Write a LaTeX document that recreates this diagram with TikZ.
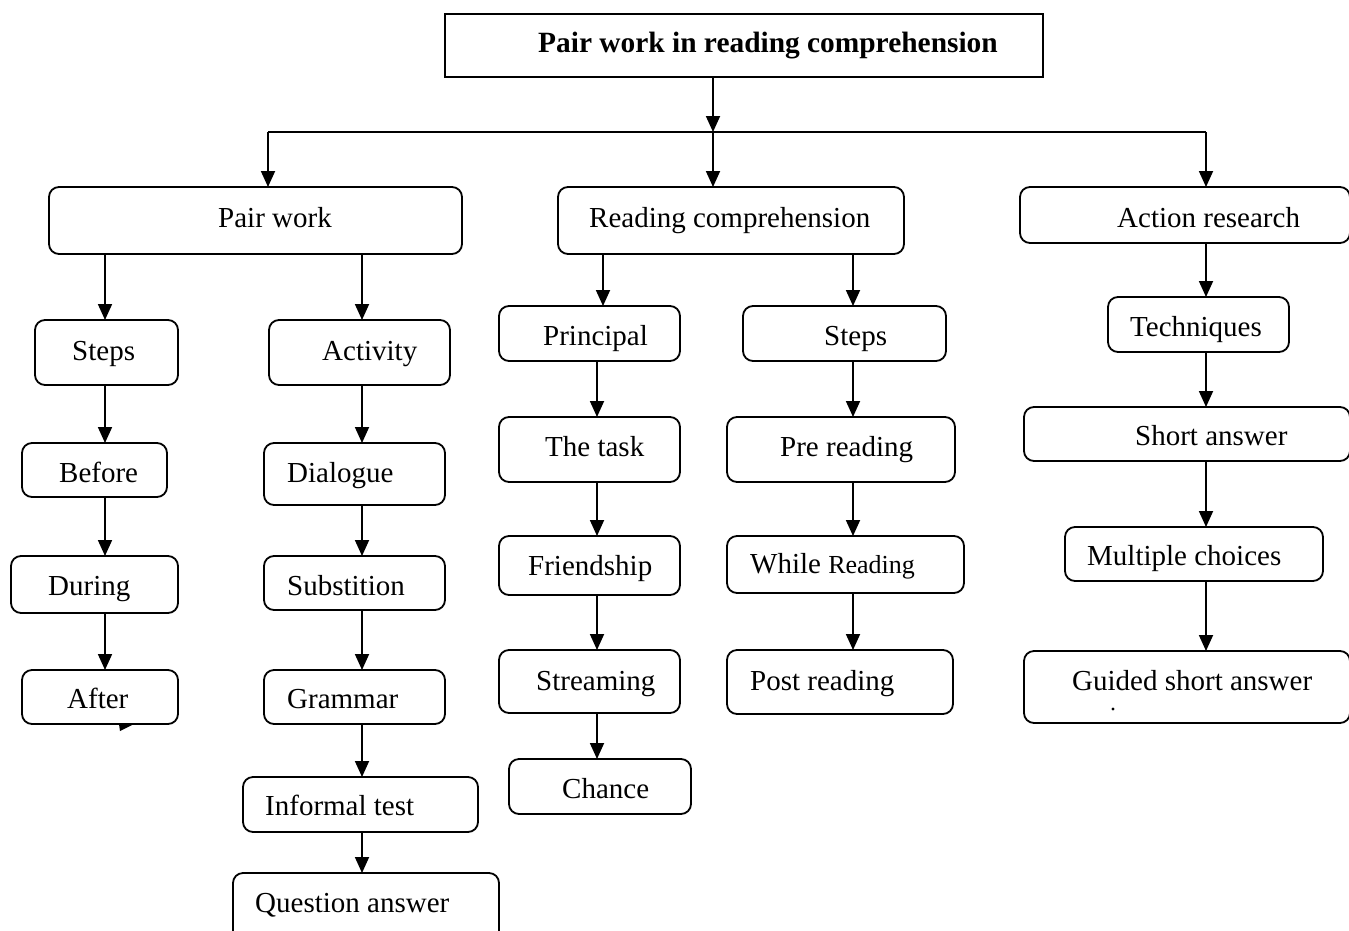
\documentclass[tikz,border=0pt]{standalone}
\usepackage{fontspec}
\setmainfont{Liberation Serif}
\usetikzlibrary{arrows.meta}
\newcommand\bx[5]{%
  \node[boxstyle, minimum width={#4pt-#2pt}, minimum height={#5pt-#3pt}] (#1) at ({(#2+#4)/2},{(#3+#5)/2}) {};}
\newcommand\tx[4]{\node[txtstyle] (#1) at (#2,#3) {#4};}
\begin{document}
\begin{tikzpicture}[x=1pt,y=-1pt,
  boxstyle/.style={draw, line width=1.8pt, rounded corners=10pt, inner sep=0pt, outer sep=0pt},
  txtstyle/.style={anchor=base west, inner sep=0pt, font=\fontsize{29}{34}\selectfont},
  arr/.style={line width=1.8pt, -{Triangle[length=16pt,width=14pt]}},
  ln/.style={line width=1.8pt}]
\useasboundingbox (0,0) rectangle (1349,930);
% column coordinates
\coordinate (c0) at (713,0);
\coordinate (cpw) at (268,0);
\coordinate (c1) at (105,0);
\coordinate (c2) at (362,0);
\coordinate (cp) at (603,0);
\coordinate (c3) at (597,0);
\coordinate (c4) at (853,0);
\coordinate (c5) at (1206,0);
\coordinate (hub) at (713,132);
% title
\node[draw, line width=1.8pt, inner sep=0pt, minimum width=598pt, minimum height=63pt] (root) at (744,45.5) {};
\node[txtstyle, font=\fontsize{29.4}{34}\selectfont\bfseries] (troot) at (538,52) {Pair work in reading comprehension};
% level 1
\bx{pw}{49}{187}{462}{254}
\tx{tpw}{218}{227}{Pair work}
\bx{rc}{558}{187}{904}{254}
\tx{trc}{589}{227}{Reading comprehension}
\bx{ar}{1020}{187}{1350}{243}
\tx{tar}{1117}{227}{Action research}
% pair work column 1
\bx{steps}{35}{320}{178}{385}
\tx{tsteps}{72}{360}{Steps}
\bx{before}{22}{443}{167}{497}
\tx{tbefore}{59}{482}{Before}
\bx{during}{11}{556}{178}{613}
\tx{tduring}{48}{595}{During}
\bx{after}{22}{670}{178}{724}
\tx{tafter}{67}{708}{After}
% pair work column 2
\bx{activity}{269}{320}{450}{385}
\tx{tactivity}{322}{360}{Activity}
\bx{dialogue}{264}{443}{445}{505}
\tx{tdialogue}{287}{482}{Dialogue}
\bx{subst}{264}{556}{445}{610}
\tx{tsubst}{287}{595}{Substition}
\bx{grammar}{264}{670}{445}{724}
\tx{tgrammar}{287}{708}{Grammar}
\bx{informal}{243}{777}{478}{832}
\tx{tinformal}{265}{815}{Informal test}
\bx{question}{233}{873}{499}{945}
\tx{tquestion}{255}{912}{Question answer}
% reading comprehension column 1
\bx{principal}{499}{306}{680}{361}
\tx{tprincipal}{543}{345}{Principal}
\bx{task}{499}{417}{680}{482}
\tx{ttask}{545}{456}{The task}
\bx{friend}{499}{536}{680}{595}
\tx{tfriend}{528}{575}{Friendship}
\bx{stream}{499}{650}{680}{713}
\tx{tstream}{536}{690}{Streaming}
\bx{chance}{509}{759}{691}{814}
\tx{tchance}{562}{798}{Chance}
% reading comprehension column 2
\bx{rsteps}{743}{306}{946}{361}
\tx{trsteps}{824}{345}{Steps}
\bx{pre}{727}{417}{955}{482}
\tx{tpre}{780}{456}{Pre reading}
\bx{while}{727}{536}{964}{593}
\node[txtstyle] (twhile) at (750,573) {While {\fontsize{26}{30}\selectfont Reading}};
\bx{post}{727}{650}{953}{714}
\tx{tpost}{750}{690}{Post reading}
% action research column
\bx{tech}{1108}{297}{1289}{352}
\tx{ttech}{1130}{336}{Techniques}
\bx{short}{1024}{407}{1350}{461}
\tx{tshort}{1135}{445}{Short answer}
\bx{multi}{1065}{527}{1323}{581}
\tx{tmulti}{1087}{565}{Multiple choices}
\bx{guided}{1024}{651}{1350}{723}
\tx{tguided}{1072}{690}{Guided short answer}
% stray marks
\fill (119,724) -- (134,724) -- (120,731) -- cycle;
\fill (1113,709) circle (1.6);
% connectors: top
\draw[arr] (root.south -| c0) -- (hub);
\draw[ln] (hub -| cpw) -- (hub -| c5);
\draw[arr] (hub -| cpw) -- (pw.north -| cpw);
\draw[arr] (hub) -- (rc.north -| hub);
\draw[arr] (hub -| c5) -- (ar.north -| c5);
% pair work
\draw[arr] (pw.south -| c1) -- (steps.north -| c1);
\draw[arr] (pw.south -| c2) -- (activity.north -| c2);
\draw[arr] (steps.south -| c1) -- (before.north -| c1);
\draw[arr] (before.south -| c1) -- (during.north -| c1);
\draw[arr] (during.south -| c1) -- (after.north -| c1);
\draw[arr] (activity.south -| c2) -- (dialogue.north -| c2);
\draw[arr] (dialogue.south -| c2) -- (subst.north -| c2);
\draw[arr] (subst.south -| c2) -- (grammar.north -| c2);
\draw[arr] (grammar.south -| c2) -- (informal.north -| c2);
\draw[arr] (informal.south -| c2) -- (question.north -| c2);
% reading comprehension
\draw[arr] (rc.south -| cp) -- (principal.north -| cp);
\draw[arr] (rc.south -| c4) -- (rsteps.north -| c4);
\draw[arr] (principal.south -| c3) -- (task.north -| c3);
\draw[arr] (task.south -| c3) -- (friend.north -| c3);
\draw[arr] (friend.south -| c3) -- (stream.north -| c3);
\draw[arr] (stream.south -| c3) -- (chance.north -| c3);
\draw[arr] (rsteps.south -| c4) -- (pre.north -| c4);
\draw[arr] (pre.south -| c4) -- (while.north -| c4);
\draw[arr] (while.south -| c4) -- (post.north -| c4);
% action research
\draw[arr] (ar.south -| c5) -- (tech.north -| c5);
\draw[arr] (tech.south -| c5) -- (short.north -| c5);
\draw[arr] (short.south -| c5) -- (multi.north -| c5);
\draw[arr] (multi.south -| c5) -- (guided.north -| c5);
\end{tikzpicture}
\end{document}
